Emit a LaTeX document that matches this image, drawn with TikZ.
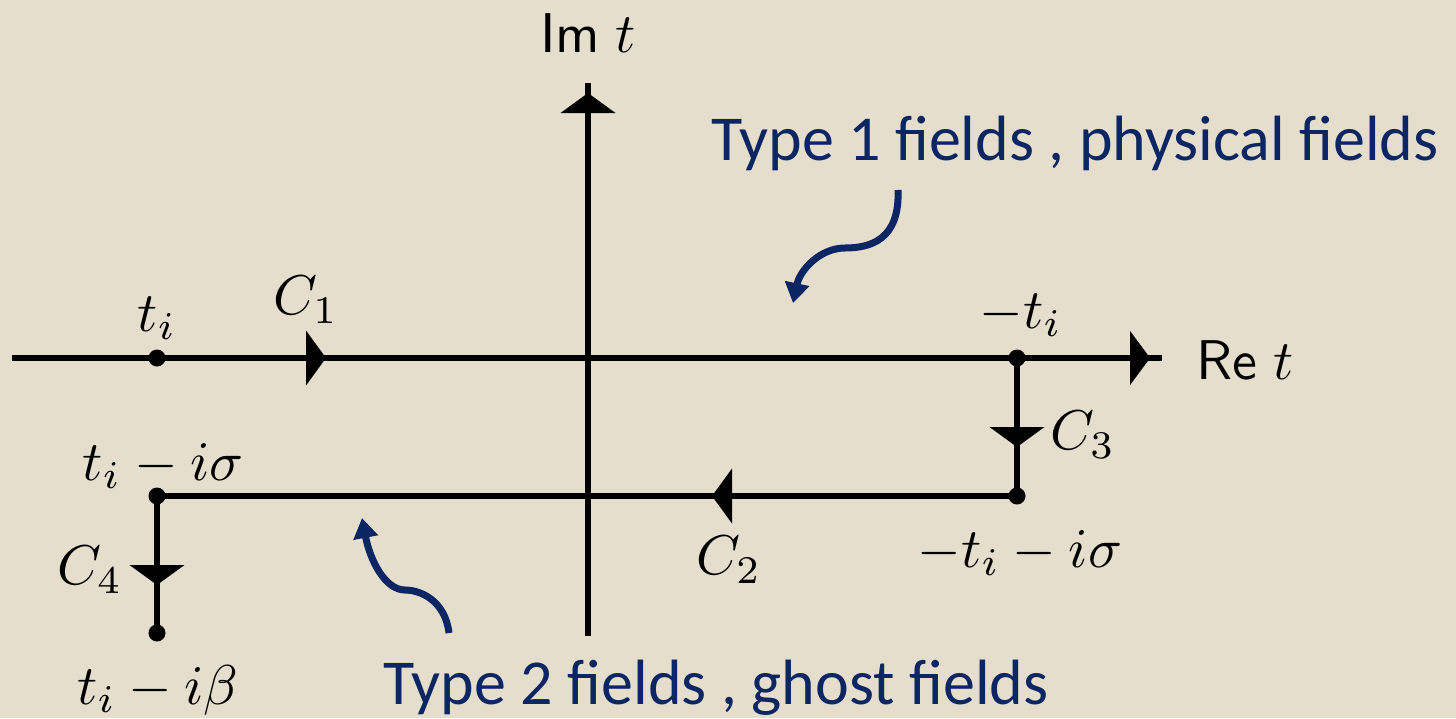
\documentclass[tikz,border=0pt]{standalone}
\usepackage{fontspec}
\newfontfamily\calib{Carlito}
\usetikzlibrary{arrows.meta,decorations.markings}
\definecolor{paper}{RGB}{229,222,205}
\definecolor{navy}{RGB}{12,38,100}
\tikzset{
  lbl/.style={font=\normalsize, inner sep=0pt, scale=5.6},
  blu/.style={font=\calib\fontsize{64}{70}\selectfont, text=navy, inner sep=0pt},
  ax/.style={line width=6pt, black},
  dotpt/.style={circle, fill=black, minimum size=17pt, inner sep=0pt},
  midarr/.style={postaction={decorate}, decoration={markings, mark=at position #1 with {\arrow{Triangle[width=54pt,length=20pt]}}}},
  curv/.style={line width=7pt, navy, -{Triangle[width=24pt,length=20pt]}}
}
\begin{document}
\begin{tikzpicture}[x=1pt,y=-1pt]
\fill[paper] (0,0) rectangle (1456,718);
\useasboundingbox (0,0) rectangle (1456,718);
% coordinates
\coordinate (L) at (12,358);
\coordinate (R) at (1162,358);
\coordinate (B) at (588,636);
\coordinate (T) at (588,83);
\node[dotpt] (ti) at (157,358) {};
\node[dotpt] (mti) at (1017,358) {};
\node[dotpt] (mtis) at (1017,496) {};
\node[dotpt] (tis) at (157,496) {};
\node[dotpt] (tib) at (157,633) {};
% axes
\draw[ax, midarr=314pt] (L) -- (R);
\path[midarr=1138pt] (L) -- (R);
\draw[ax, midarr=543pt] (B) -- (T);
% contour
\draw[ax, midarr=89pt] (mti.center) -- (mtis.center);
\draw[ax, midarr=305pt] (mtis.center) -- (tis.center);
\draw[ax, midarr=89pt] (tis.center) -- (tib.center);
% labels
\node[lbl] (lti) at (157,318) {$t_i$};
\node[lbl] (lc1) at (306,300) {$C_1$};
\node[lbl] (lmti) at (1021,315) {$-t_i$};
\node[lbl] (lc3) at (1083,435) {$C_3$};
\node[lbl] (lc2) at (729,560) {$C_2$};
\node[lbl] (lmtis) at (1020,553) {$-t_i - i\sigma$};
\node[lbl] (ltis) at (163,466) {$t_i - i\sigma$};
\node[lbl] (lc4) at (90,570) {$C_4$};
\node[lbl] (ltib) at (158,690) {$t_i - i\beta$};
\node[lbl] (lim) at (588,33) {$\mathsf{Im}\; t$};
\node[lbl] (lre) at (1245,360) {$\mathsf{Re}\; t$};
% blue texts
\node[blu] (ty1) at (1075,143) {Type 1 fields , physical fields};
\node[blu] (ty2) at (716,688) {Type 2 fields , ghost fields};
% curved arrows
\coordinate (a1s) at (898,190);
\coordinate (a1e) at (793,303);
\draw[curv] (a1s) .. controls (900,240) and (870,248) .. (845,248) .. controls (820,248) and (800,270) .. (a1e);
\coordinate (a2s) at (449,633);
\coordinate (a2e) at (362,518);
\draw[curv] (a2s) .. controls (445,600) and (420,590) .. (405,590) .. controls (385,590) and (370,560) .. (a2e);
\end{tikzpicture}
\end{document}
